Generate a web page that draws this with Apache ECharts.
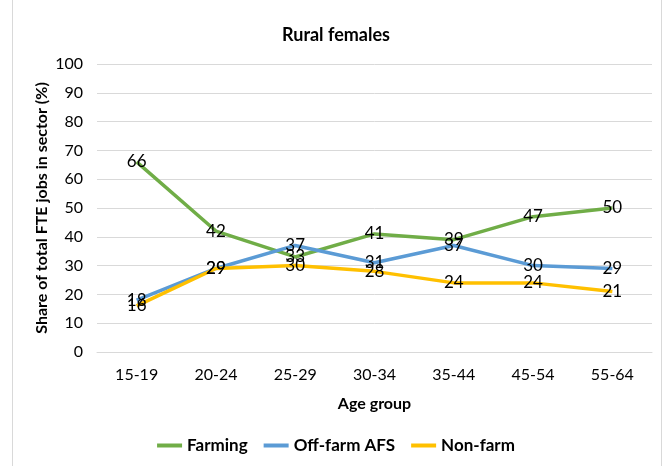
<!DOCTYPE html>
<html>
<head>
<meta charset="utf-8">
<script src="https://cdn.jsdelivr.net/npm/echarts@6/dist/echarts.min.js"></script>
<style>
html,body{margin:0;padding:0;background:#fff;}
#chart{width:672px;height:466px;}
</style>
</head>
<body>
<div id="chart"></div>
<script>
// Age groups along the x axis
const ageGroups = ['15-19', '20-24', '25-29', '30-34', '35-44', '45-54', '55-64'];
// Share of total FTE jobs in each sector (%)
const farming = [66, 42, 33, 41, 39, 47, 50];
const offFarmAFS = [18, 29, 37, 31, 37, 30, 29];
const nonFarm = [16, 29, 30, 28, 24, 24, 21];
const yTicks = [0, 10, 20, 30, 40, 50, 60, 70, 80, 90, 100];

const font = 'Lato, "Open Sans", sans-serif';
const chart = echarts.init(document.getElementById('chart'));

function lineSeries(name, data, color) {
  return {
    name: name,
    type: 'line',
    data: data,
    symbol: 'circle',
    symbolSize: 0,
    showSymbol: true,
    lineStyle: { width: 3.5, color: color },
    itemStyle: { color: color },
    label: {
      show: true,
      position: 'inside',
      color: '#000',
      fontFamily: font,
      fontSize: 17
    },
    emphasis: { disabled: true }
  };
}

chart.setOption({
  animation: false,
  backgroundColor: '#fff',
  title: {
    text: 'Rural females',
    left: 'center',
    top: 21,
    textStyle: { fontFamily: font, fontSize: 18, fontWeight: 'bold', color: '#000' }
  },
  graphic: [{
    type: 'rect',
    shape: { x: 12.5, y: -2, width: 649, height: 480 },
    style: { fill: 'none', stroke: '#d9d9d9', lineWidth: 1 },
    silent: true
  }],
  legend: {
    bottom: 7,
    left: 'center',
    itemWidth: 25,
    itemHeight: 4,
    itemGap: 16,
    icon: 'rect',
    textStyle: { fontFamily: font, fontSize: 17, fontWeight: 'bold', color: '#000' },
    data: ['Farming', 'Off-farm AFS', 'Non-farm']
  },
  grid: { left: 97, right: 20, top: 64, bottom: 114, containLabel: false },
  xAxis: {
    type: 'category',
    data: ageGroups,
    boundaryGap: true,
    name: 'Age group',
    nameLocation: 'middle',
    nameGap: 44,
    nameMoveOverlap: false,
    nameTextStyle: { fontFamily: font, fontSize: 16, fontWeight: 'bold', color: '#000' },
    axisLine: { show: true, lineStyle: { color: '#d9d9d9', width: 1 } },
    axisTick: { show: false },
    axisLabel: { fontFamily: font, fontSize: 16, color: '#000', margin: 15 }
  },
  yAxis: {
    type: 'value',
    min: yTicks[0],
    max: yTicks[yTicks.length - 1],
    interval: 10,
    name: 'Share of total FTE jobs in sector (%)',
    nameLocation: 'middle',
    nameGap: 47,
    nameMoveOverlap: false,
    nameTextStyle: { fontFamily: font, fontSize: 16, fontWeight: 'bold', color: '#000' },
    axisLine: { show: false },
    axisTick: { show: false },
    splitLine: { lineStyle: { color: '#d9d9d9', width: 1 } },
    axisLabel: { fontFamily: font, fontSize: 16, color: '#000', margin: 14 }
  },
  series: [
    lineSeries('Farming', farming, '#70AD47'),
    lineSeries('Off-farm AFS', offFarmAFS, '#5B9BD5'),
    lineSeries('Non-farm', nonFarm, '#FFC000')
  ]
});
</script>
</body>
</html>
